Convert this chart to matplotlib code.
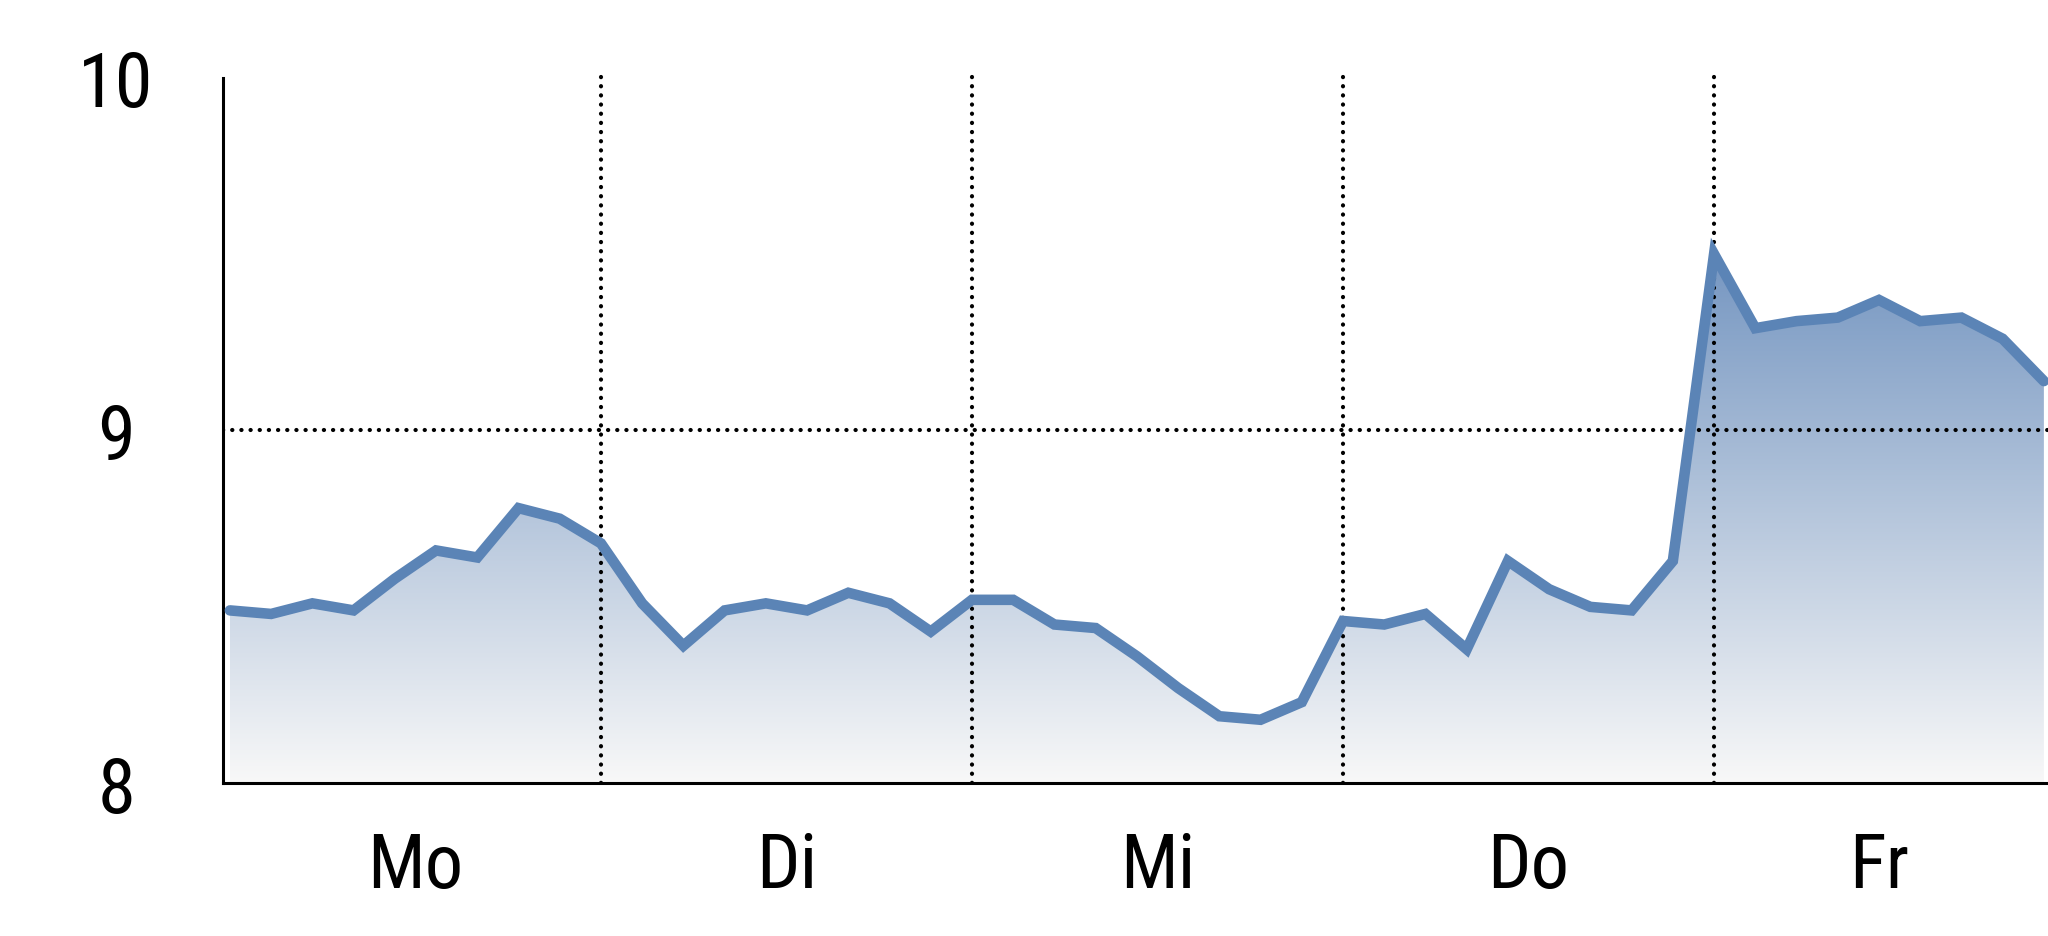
import numpy as np
import matplotlib
matplotlib.use("Agg")
import matplotlib.pyplot as plt
from matplotlib.colors import LinearSegmentedColormap

days = ["Mo", "Di", "Mi", "Do", "Fr"]
day_label_pos = [4.5, 13.5, 22.5, 31.5, 40.0]
day_boundaries = [9, 18, 27, 36]
values = [8.49, 8.48, 8.51, 8.49, 8.58, 8.66, 8.64, 8.78, 8.75,
          8.68, 8.51, 8.39, 8.49, 8.51, 8.49, 8.54, 8.51, 8.43,
          8.52, 8.52, 8.45, 8.44, 8.36, 8.27, 8.19, 8.18, 8.23,
          8.46, 8.45, 8.48, 8.38, 8.63, 8.55, 8.50, 8.49, 8.63,
          9.50, 9.29, 9.31, 9.32, 9.37, 9.31, 9.32, 9.26, 9.14]
y_ticks = [8, 9, 10]

FONT = ["Roboto Condensed", "Liberation Sans", "DejaVu Sans"]

x = np.arange(len(values))
y = np.array(values)

fig = plt.figure(figsize=(20.48, 9.37), dpi=100)
ax = fig.add_axes([0.1089, 0.163, 0.8911, 0.753])
xmin, xmax = -0.167, 44.1
ymin, ymax = 8, 10

# gradient fill
cmap = LinearSegmentedColormap.from_list("g", ["#f8f8f8", "#7596c1"])
grad = np.linspace(0, 1, 256).reshape(-1, 1)
poly = ax.fill_between(x, y, ymin, color="none", lw=0)
img = ax.imshow(grad, extent=[x[0], x[-1], 8, 9.5], origin="lower",
                aspect="auto", cmap=cmap, zorder=1, interpolation="bilinear")
img.set_clip_path(poly.get_paths()[0], transform=ax.transData)
ax.set_xlim(xmin, xmax)
ax.set_ylim(ymin, ymax)

# dotted grid lines
dot = dict(color="black", lw=3.0, ls=(0, (0.05, 2.15)), dash_capstyle="round", zorder=2)
for b in day_boundaries:
    ax.axvline(b, ymin=0, ymax=1.005, clip_on=False, **dot)
ax.axhline(9, **dot)

ax.plot(x, y, color="#5b84b6", lw=7.6, solid_joinstyle="miter", zorder=3,
        solid_capstyle="round")

for s in ["top", "right"]:
    ax.spines[s].set_visible(False)
for s in ["left", "bottom"]:
    ax.spines[s].set_linewidth(2.2)
    ax.spines[s].set_color("black")

ax.set_yticks(y_ticks)
ax.set_yticklabels([str(t) for t in y_ticks], fontsize=55,
                   fontfamily=FONT, ha="center")
ax.tick_params(axis="y", length=0, pad=77)
ax.set_xticks(day_label_pos)
ax.set_xticklabels(days, fontsize=55, fontfamily=FONT)
ax.tick_params(axis="x", length=0, pad=34)

fig.savefig("out.png", dpi=100, facecolor="white")
